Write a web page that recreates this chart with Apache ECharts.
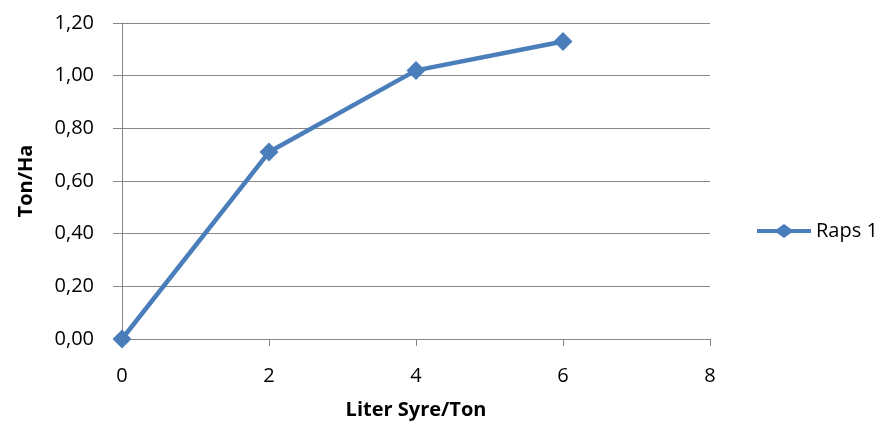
<!DOCTYPE html>
<html>
<head>
<meta charset="utf-8">
<script src="https://cdn.jsdelivr.net/npm/echarts@6/dist/echarts.min.js"></script>
<style>
  html, body { margin: 0; padding: 0; background: #fff; }
  #chart { width: 888px; height: 427px; }
</style>
</head>
<body>
<div id="chart"></div>
<script>
// Yield per hectare against acid dose
const doses = [0, 2, 4, 6];
const yieldTonHa = [0.00, 0.71, 1.02, 1.13];
const seriesName = 'Raps 1';
const xTitle = 'Liter Syre/Ton';
const yTitle = 'Ton/Ha';

const font = '"Open Sans", "Liberation Sans", sans-serif';
const axisGray = '#868686';
const lineBlue = '#4A7EBB';

// Legend glyph: thick line with a diamond in the middle
const legendIcon = 'path://M0,5 L20,5 L27,0 L34,5 L54,5 L54,9 L34,9 L27,14 L20,9 L0,9 Z';

const chart = echarts.init(document.getElementById('chart'), null, { renderer: 'canvas' });

chart.setOption({
  animation: false,
  backgroundColor: '#ffffff',
  grid: { left: 122, right: 178, top: 23, bottom: 88 },
  legend: {
    data: [{ name: seriesName, icon: legendIcon }],
    orient: 'vertical',
    left: 757,
    top: 221,
    padding: 0,
    itemWidth: 54,
    itemHeight: 14,
    itemGap: 0,
    textStyle: { fontFamily: font, fontSize: 20, color: '#000', padding: [0, 0, 0, 0] }
  },
  xAxis: {
    type: 'value',
    min: 0, max: 8, interval: 2,
    name: xTitle,
    nameLocation: 'middle',
    nameGap: 61,
    nameTextStyle: { fontFamily: font, fontSize: 20, fontWeight: 'bold', color: '#000' },
    axisLine: { show: true, lineStyle: { color: axisGray, width: 1 } },
    axisTick: { show: true, length: 7, lineStyle: { color: axisGray } },
    axisLabel: { margin: 27, fontFamily: font, fontSize: 20, color: '#000' },
    splitLine: { show: false }
  },
  yAxis: {
    type: 'value',
    min: 0, max: 1.2, interval: 0.2,
    name: yTitle,
    nameLocation: 'middle',
    nameGap: 86,
    nameRotate: 90,
    nameTextStyle: { fontFamily: font, fontSize: 20, fontWeight: 'bold', color: '#000' },
    axisLine: { show: true, lineStyle: { color: axisGray, width: 1 } },
    axisTick: { show: true, length: 9, lineStyle: { color: axisGray } },
    axisLabel: {
      margin: 28,
      fontFamily: font, fontSize: 20, color: '#000',
      formatter: v => v.toFixed(2).replace('.', ',')
    },
    splitLine: { show: true, lineStyle: { color: axisGray, width: 1 } }
  },
  series: [{
    name: seriesName,
    type: 'line',
    data: doses.map((d, i) => [d, yieldTonHa[i]]),
    symbol: 'diamond',
    symbolSize: 19,
    lineStyle: { color: lineBlue, width: 4.5 },
    itemStyle: { color: lineBlue },
    z: 5
  }]
});
</script>
</body>
</html>
